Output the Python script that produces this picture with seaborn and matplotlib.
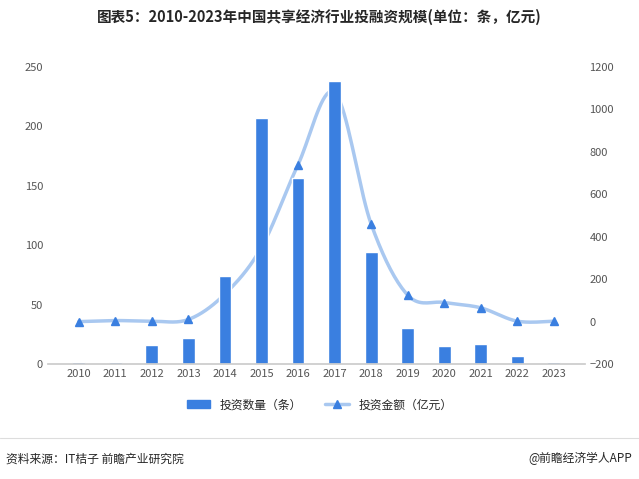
import numpy as np
import pandas as pd
import matplotlib.pyplot as plt
import seaborn as sns
from matplotlib.lines import Line2D
from matplotlib.patches import Patch

years = ["2010", "2011", "2012", "2013", "2014", "2015", "2016",
         "2017", "2018", "2019", "2020", "2021", "2022", "2023"]
counts = [2, 2, 16, 22, 74, 207, 157, 238, 94, 30, 15, 17, 7, 2]
amounts = [0, 5, 2, 10, 130, 350, 740, 1080, 460, 125, 90, 65, 2, 2]

sns.set_theme(style="white")
plt.rcParams['font.family'] = ['Noto Sans CJK SC', 'DejaVu Sans']

bar_color = "#3a7fe0"
line_color = "#a9c8f0"

fig = plt.figure(figsize=(6.39, 4.79), dpi=100)
ax = fig.add_axes([0.075, 0.24, 0.84, 0.62])
df = pd.DataFrame({"year": years, "count": counts, "amount": amounts})
sns.barplot(data=df, x="year", y="count", color=bar_color, width=0.35, ax=ax,
            saturation=1)
ax.set_ylim(0, 250)
ax.set_yticks(range(0, 251, 50))
ax.set_xlabel("")
ax.set_ylabel("")
for s in ["top", "right", "left"]:
    ax.spines[s].set_visible(False)
ax.spines["bottom"].set_color("#cccccc")
ax.tick_params(labelsize=8, colors="#555555", length=0)

# smooth curve (Catmull-Rom) through the data points
ax2 = ax.twinx()
x = np.arange(len(amounts))
y = np.array(amounts, float)
px = [x[0]] + list(x) + [x[-1]]
py = [y[0]] + list(y) + [y[-1]]
sx, sy = [], []
for i in range(1, len(px) - 2):
    t = np.linspace(0, 1, 20)
    for arr, out in ((px, sx), (py, sy)):
        p0, p1, p2, p3 = arr[i - 1], arr[i], arr[i + 1], arr[i + 2]
        out.extend(0.5 * ((2 * p1) + (-p0 + p2) * t + (2 * p0 - 5 * p1 + 4 * p2 - p3) * t ** 2
                          + (-p0 + 3 * p1 - 3 * p2 + p3) * t ** 3))
ax2.plot(sx, sy, color=line_color, lw=2.5, zorder=1)
ax2.plot(x, y, ls="none", marker="^", color=bar_color, ms=6, zorder=2)
ax2.set_ylim(-200, 1200)
ax2.set_yticks(range(-200, 1201, 200))
for s in ["top", "right", "left", "bottom"]:
    ax2.spines[s].set_visible(False)
ax2.tick_params(labelsize=8, colors="#555555", length=0)
ax2.grid(False)

# bars drawn over the line
ax.set_zorder(ax2.get_zorder() + 1)
ax.patch.set_visible(False)

handles = [Patch(color=bar_color, label="投资数量（条）"),
           Line2D([], [], color=line_color, lw=2.5, marker="^", mfc=bar_color,
                  mec=bar_color, label="投资金额（亿元）")]
fig.legend(handles=handles, loc="center", bbox_to_anchor=(0.5, 0.155), ncol=2,
           frameon=False, fontsize=8.5)

fig.text(0.5, 0.955, "图表5：2010-2023年中国共享经济行业投融资规模(单位：条，亿元)",
         ha="center", fontsize=10.5, fontweight="bold")
fig.text(0.01, 0.035, "资料来源：IT桔子 前瞻产业研究院", fontsize=8.5)
fig.text(0.99, 0.035, "@前瞻经济学人APP", fontsize=8.5, ha="right")
fig.add_artist(Line2D([0, 1], [0.085, 0.085], color="#dddddd", lw=0.8))

fig.savefig("out.png", dpi=100)
